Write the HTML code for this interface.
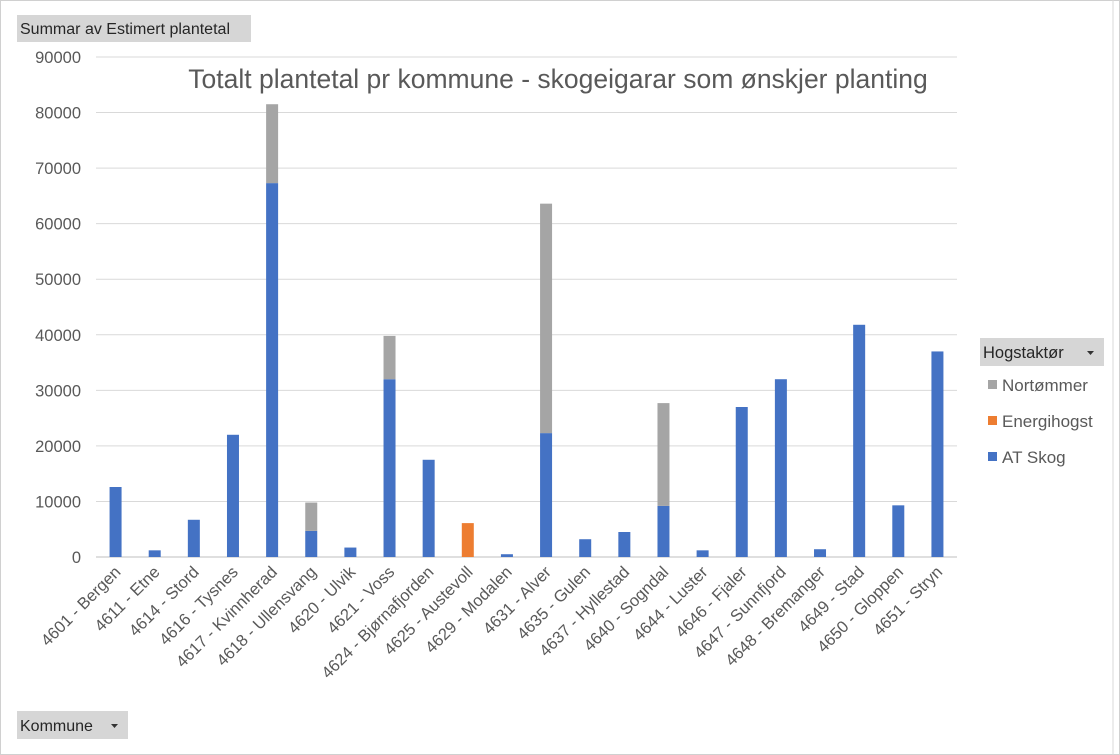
<!DOCTYPE html>
<html><head><meta charset="utf-8"><style>
body{margin:0;background:#fff;font-family:"Liberation Sans",sans-serif}
svg{display:block}
</style></head><body>
<svg id="c" width="1120" height="755" xmlns="http://www.w3.org/2000/svg">
<rect x="0.5" y="0.5" width="1119" height="754" fill="#fff" stroke="#d0d0d0"/>
<line x1="1113" y1="0" x2="1113" y2="755" stroke="#d9d9d9"/>
<g id="grid"></g><g id="bars"></g><g id="xl"></g>
<text x="558" y="88" text-anchor="middle" font-size="26.5" fill="#595959">Totalt plantetal pr kommune - skogeigarar som ønskjer planting</text>
<g><rect x="17" y="15" width="234" height="27" fill="#d6d6d6"/><text x="20" y="34" font-size="15.5" fill="#262626" textLength="210" lengthAdjust="spacingAndGlyphs">Summar av Estimert plantetal</text></g>
<g><rect x="17" y="711" width="111" height="28" fill="#d6d6d6"/><text x="20" y="731" font-size="16" fill="#262626">Kommune</text><path d="M111 724h7l-3.5 4z" fill="#333"/></g>
<g>
<g><rect x="980" y="338" width="124" height="28" fill="#d6d6d6"/><text x="983" y="358" font-size="16.5" fill="#262626">Hogstaktør</text><path d="M1087 351h7l-3.5 4z" fill="#333"/></g>
<g><rect x="988" y="380" width="9" height="9" fill="#a5a5a5"/><text x="1002" y="391" font-size="17" fill="#595959">Nortømmer</text></g>
<g><rect x="988" y="416" width="9" height="9" fill="#ed7d31"/><text x="1002" y="427" font-size="17" fill="#595959">Energihogst</text></g>
<g><rect x="988" y="452" width="9" height="9" fill="#4472c4"/><text x="1002" y="463" font-size="17" fill="#595959">AT Skog</text></g>
</g>
</svg>
<script>
const categories=["4601 - Bergen","4611 - Etne","4614 - Stord","4616 - Tysnes","4617 - Kvinnherad","4618 - Ullensvang","4620 - Ulvik","4621 - Voss","4624 - Bjørnafjorden","4625 - Austevoll","4629 - Modalen","4631 - Alver","4635 - Gulen","4637 - Hyllestad","4640 - Sogndal","4644 - Luster","4646 - Fjaler","4647 - Sunnfjord","4648 - Bremanger","4649 - Stad","4650 - Gloppen","4651 - Stryn"];
const atSkog=[12600,1200,6700,22000,67300,4700,1700,32000,17500,0,500,22300,3200,4500,9200,1200,27000,32000,1400,41800,9300,37000];
const energihogst=[0,0,0,0,0,0,0,0,0,6100,0,0,0,0,0,0,0,0,0,0,0,0];
const nortommer=[0,0,0,0,14200,5100,0,7800,0,0,0,41300,0,0,18500,0,0,0,0,0,0,0];
const yTicks=[0,10000,20000,30000,40000,50000,60000,70000,80000,90000];
const NS="http://www.w3.org/2000/svg";
const x0=96,x1=957,yB=557,yT=57,yMax=90000;
const y=v=>yB-(v/yMax)*(yB-yT);
const step=(x1-x0)/categories.length;
const xc=i=>x0+step*(i+0.5);
function mk(t,a,p){const e=document.createElementNS(NS,t);for(const k in a)e.setAttribute(k,a[k]);p.appendChild(e);return e;}
const grid=document.getElementById('grid');
yTicks.forEach(t=>{
 const l=mk('line',{x1:x0,x2:x1,y1:y(t),y2:y(t),stroke:t===0?'#bfbfbf':'#d9d9d9'},grid);
 
 
 const tx=mk('text',{x:81,y:y(t)+6,'text-anchor':'end','font-size':16.5,fill:'#595959'},grid);
 tx.textContent=t;
 
 
});
const bars=document.getElementById('bars'),xl=document.getElementById('xl');
const bw=12;
categories.forEach((c,i)=>{
 let base=0;
 [[atSkog,'#4472c4','at-skog'],[energihogst,'#ed7d31','energihogst'],[nortommer,'#a5a5a5','nortommer']].forEach(([arr,col,n])=>{
  const v=arr[i]; if(!v) return;
  const r=mk('rect',{x:xc(i)-bw/2,y:y(base+v),width:bw,height:y(base)-y(base+v),fill:col},bars);
  
  
  base+=v;
 });
 const px=xc(i)+6,py=573;
 const t=mk('text',{x:px,y:py,'text-anchor':'end','font-size':16.5,fill:'#595959',transform:`rotate(-45 ${px} ${py})`},xl);
 t.textContent=c;
 
 
});
</script>
</body></html>
